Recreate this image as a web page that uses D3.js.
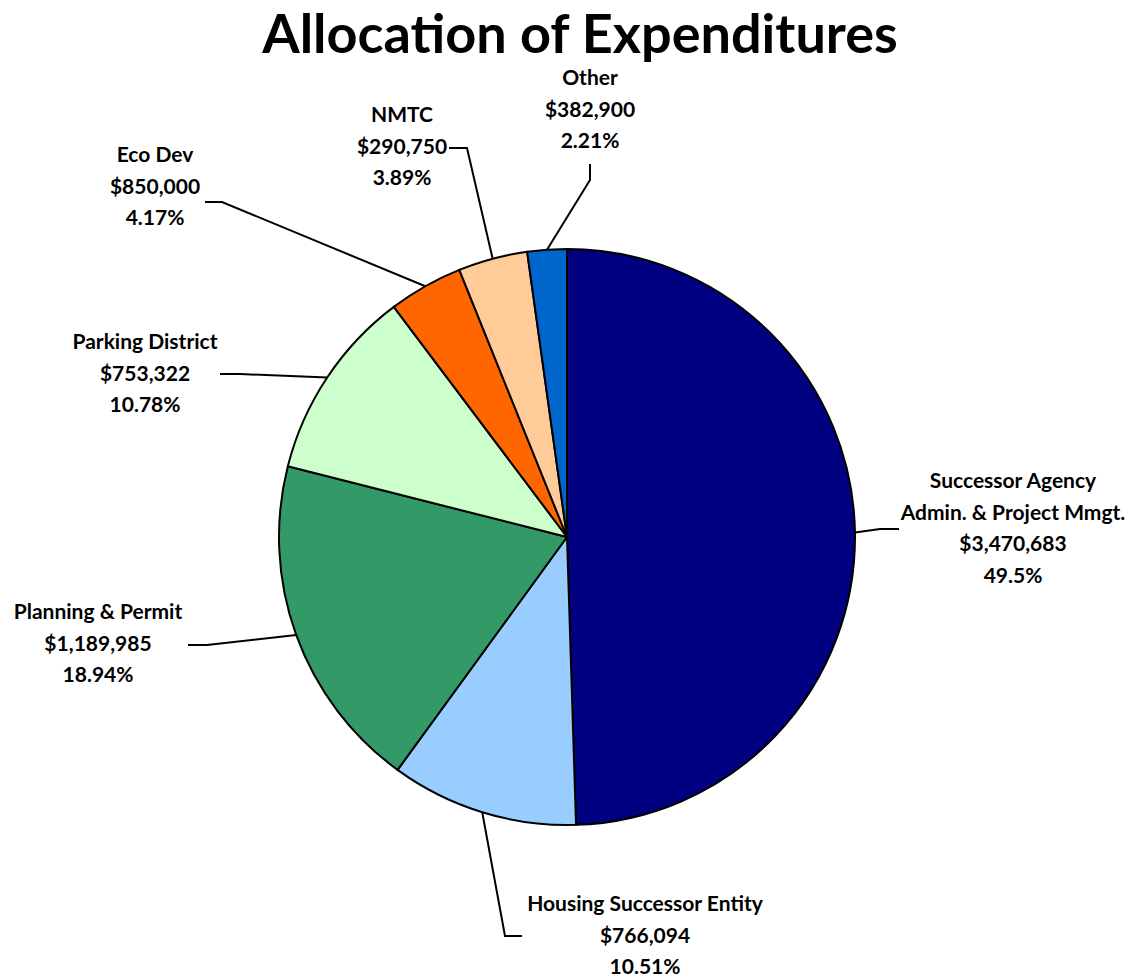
<!DOCTYPE html>
<html>
<head>
<meta charset="utf-8">
<script src="https://cdn.jsdelivr.net/npm/d3@7"></script>
<style>
  body { margin: 0; background: #fff; }
  text { font-family: Lato, "Open Sans", sans-serif; font-weight: bold; fill: #000; }
</style>
</head>
<body>
<svg id="chart" width="1141" height="977"></svg>
<script>
// data
var categories = ['Successor Agency\nAdmin. & Project Mmgt.', 'Housing Successor Entity',
  'Planning & Permit', 'Parking District', 'Eco Dev', 'NMTC', 'Other'];
var amounts = ['$3,470,683', '$766,094', '$1,189,985', '$753,322', '$850,000', '$290,750', '$382,900'];
var percents = [49.5, 10.51, 18.94, 10.78, 4.17, 3.89, 2.21];
var percentLabels = ['49.5%', '10.51%', '18.94%', '10.78%', '4.17%', '3.89%', '2.21%'];
var colors = ['#000080', '#99ccff', '#339966', '#ccffcc', '#ff6600', '#ffcc99', '#0066cc'];

// label layout: text center x, first line y, elbow point, end point of leader
var labelPos = [
  { x: 1013, y: 481, elbow: [880, 529], end: [899, 529] },
  { x: 645, y: 904, elbow: [505, 936], end: [522, 936] },
  { x: 98, y: 612, elbow: [207, 645], end: [188, 645] },
  { x: 145, y: 342, elbow: [240, 374], end: [220, 374] },
  { x: 155, y: 155, elbow: [222, 202], end: [205, 202] },
  { x: 402, y: 115, elbow: [467, 148], end: [449, 148] },
  { x: 590, y: 78, elbow: [590, 180], end: [590, 164] }
];

var cx = 567, cy = 537, radius = 288, lineH = 31.5;

var svg = d3.select('#chart');

svg.append('text')
  .attr('x', 580)
  .attr('y', 53)
  .attr('text-anchor', 'middle')
  .style('font-size', '54px')
  .text('Allocation of Expenditures');

var pie = d3.pie().sort(null).value(function(d) { return d; });
var arcs = pie(percents);
var arc = d3.arc().innerRadius(0).outerRadius(radius);

var g = svg.append('g').attr('transform', 'translate(' + cx + ',' + cy + ')');

g.selectAll('path.slice')
  .data(arcs)
  .enter()
  .append('path')
  .attr('class', 'slice')
  .attr('d', arc)
  .attr('fill', function(d, i) { return colors[i]; })
  .attr('stroke', '#000')
  .attr('stroke-width', 2)
  .attr('stroke-linejoin', 'round');

// leader lines
svg.selectAll('polyline.leader')
  .data(arcs)
  .enter()
  .append('polyline')
  .attr('class', 'leader')
  .attr('fill', 'none')
  .attr('stroke', '#000')
  .attr('stroke-width', 2)
  .attr('points', function(d, i) {
    var a = (d.startAngle + d.endAngle) / 2;
    var p0 = [cx + radius * Math.sin(a), cy - radius * Math.cos(a)];
    var lp = labelPos[i];
    return [p0, lp.elbow, lp.end].map(function(p) { return p.join(','); }).join(' ');
  });

// labels
categories.forEach(function(name, i) {
  var lines = name.split('\n').concat([amounts[i], percentLabels[i]]);
  var t = svg.append('text')
    .attr('text-anchor', 'middle')
    .style('font-size', '21px');
  lines.forEach(function(s, j) {
    t.append('tspan')
      .attr('x', labelPos[i].x)
      .attr('y', labelPos[i].y + j * lineH)
      .attr('dy', '0.35em')
      .text(s);
  });
});
</script>
</body>
</html>
